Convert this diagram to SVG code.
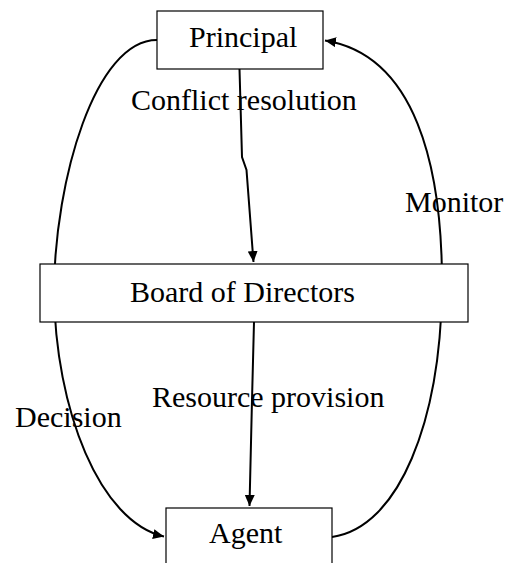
<svg xmlns="http://www.w3.org/2000/svg" width="505" height="563" viewBox="0 0 505 563">
<defs>
<style>
.box{fill:#fff;stroke:#000;stroke-width:1.2}
.lbl{font-family:'Liberation Serif','Times New Roman','DejaVu Serif',serif;font-size:30px;fill:#000}
.con{fill:none;stroke:#000;stroke-width:2}
</style>
<marker id="ah" markerUnits="userSpaceOnUse" markerWidth="12" markerHeight="10" refX="11" refY="5" orient="auto">
<path d="M0,0 L11,5 L0,10 Z" fill="#000"/>
</marker>
</defs>
<rect width="505" height="563" fill="#fff"/>
<g id="connectors">
<path class="con" d="M157,40 C95,40 55,180 54,290 C55,410 100,522 164,536.5" marker-end="url(#ah)"/>
<path class="con" d="M332,537 C400,527 440,420 442,290 C443,165 415,55 325,40.5" marker-end="url(#ah)"/>
<path class="con" d="M239.5,69 L242,157 L246.5,170 L253.5,262" marker-end="url(#ah)"/>
<path class="con" d="M254,322 L252,400 L249.5,506" marker-end="url(#ah)"/>
</g>
<g id="principal">
<rect class="box" x="157" y="11" width="166" height="58"/>
<text class="lbl" font-family="Liberation Serif, serif" x="189" y="47">Principal</text>
</g>
<g id="board">
<rect class="box" x="40" y="264" width="428" height="58"/>
<text class="lbl" font-family="Liberation Serif, serif" x="130" y="302">Board of Directors</text>
</g>
<g id="agent">
<rect class="box" x="166" y="508" width="166" height="60"/>
<text class="lbl" font-family="Liberation Serif, serif" x="209" y="543">Agent</text>
</g>
<g id="labels">
<text class="lbl" font-family="Liberation Serif, serif" x="131" y="110">Conflict resolution</text>
<text class="lbl" font-family="Liberation Serif, serif" x="405" y="212">Monitor</text>
<text class="lbl" font-family="Liberation Serif, serif" x="15" y="427">Decision</text>
<text class="lbl" font-family="Liberation Serif, serif" x="152" y="407">Resource provision</text>
</g>
</svg>
